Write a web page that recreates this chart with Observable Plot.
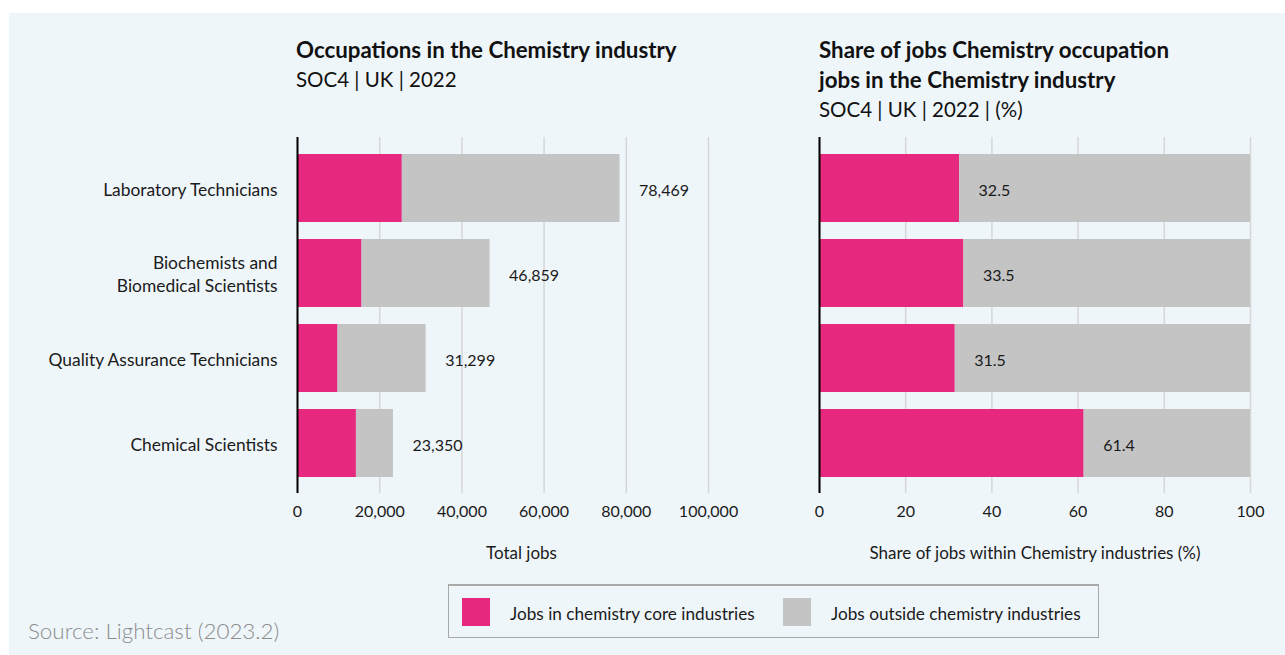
<!DOCTYPE html>
<html><head><meta charset="utf-8">
<script src="https://cdn.jsdelivr.net/npm/d3@7"></script>
<script src="https://cdn.jsdelivr.net/npm/@observablehq/plot@0.6"></script>
<style>
body{margin:0;width:1285px;height:655px;background:#fff;position:relative;overflow:hidden;font-family:Lato, "Noto Sans", sans-serif;color:#1a1a1a;}
#panel{position:absolute;left:9px;top:13px;width:1276px;height:642px;background:#eff6fa;}
.title{position:absolute;font-size:20.5px;line-height:29px;color:#111;}
.title b{font-weight:700;font-size:22.3px;}
#left,#right{position:absolute;top:137px;}
#left{left:0;}
#right{left:700px;}
#legend{position:absolute;left:448px;top:584px;width:649px;height:51px;border:1px solid #a9a9a9;border-top:2px solid #a9a9a9;box-sizing:content-box;}
.sw{position:absolute;top:12px;width:28px;height:28px;}
.lt{position:absolute;top:15px;font-size:17.2px;line-height:26px;color:#1a1a1a;}
#source{position:absolute;left:28px;top:617px;font-size:22.4px;font-weight:300;color:#8c8c8c;}
</style></head>
<body>
<div id="panel"></div>
<div class="title" style="left:296px;top:35px"><b>Occupations in the Chemistry industry</b><br>SOC4 | UK | 2022</div>
<div class="title" style="left:819px;top:35px"><b>Share of jobs Chemistry occupation<br>jobs in the Chemistry industry</b><br>SOC4 | UK | 2022 | (%)</div>
<div id="left"></div>
<div id="right"></div>
<div id="legend">
  <div class="sw" style="left:13px;background:#e6297f"></div><div class="lt" style="left:61px">Jobs in chemistry core industries</div>
  <div class="sw" style="left:334px;background:#c4c4c4"></div><div class="lt" style="left:382px">Jobs outside chemistry industries</div>
</div>
<div id="source">Source: Lightcast (2023.2)</div>
<script>
const occupations = ["Laboratory Technicians", "Biochemists and\nBiomedical Scientists", "Quality Assurance Technicians", "Chemical Scientists"];
const totalJobs = [78469, 46859, 31299, 23350];
const coreJobs = [25502, 15698, 9859, 14337];
const coreShare = [32.5, 33.5, 31.5, 61.4];
const ticksTotal = [0, 20000, 40000, 60000, 80000, 100000];
const ticksShare = [0, 20, 40, 60, 80, 100];
const axisTitles = ["Total jobs", "Share of jobs within Chemistry industries (%)"];
const seriesNames = ["Jobs in chemistry core industries", "Jobs outside chemistry industries"];
const seriesColors = ["#e6297f", "#c4c4c4"];

const rows = occupations.map((o, i) => ({occ: o, total: totalJobs[i], core: coreJobs[i], share: coreShare[i]}));
const fmt = d3.format(",");
const common = {
  style: {fontFamily: "Lato, 'Noto Sans', sans-serif", fontSize: "16px", background: "transparent", color: "#1a1a1a"},
};
const yScale = {domain: occupations, paddingInner: 0.2, paddingOuter: 0.194};

const left = Plot.plot({
  ...common,
  width: 760, height: 436,
  marginLeft: 297, marginRight: 15, marginTop: 0, marginBottom: 80,
  x: {domain: [0, 109000]},
  y: yScale,
  marks: [
    Plot.ruleX(ticksTotal, {stroke: "#d6d6d6", strokeWidth: 1.5}),
    Plot.barX(rows, {y: "occ", x1: 0, x2: "core", fill: seriesColors[0]}),
    Plot.barX(rows, {y: "occ", x1: "core", x2: "total", fill: seriesColors[1]}),
    Plot.text(rows, {y: "occ", x: "total", text: d => fmt(d.total), dx: 19, dy: 2, textAnchor: "start", fontSize: 16, fill: "#1a1a1a"}),
    Plot.ruleX([0], {stroke: "#000", strokeWidth: 2}),
    Plot.axisY({tickSize: 0, tickPadding: 20, fontSize: 17.4, label: null, lineHeight: 1.3}),
    Plot.axisX({ticks: ticksTotal, tickFormat: d => fmt(d), tickSize: 0, tickPadding: 12, fontSize: 16, label: null}),
    Plot.text([axisTitles[0]], {text: d => d, frameAnchor: "bottom", lineAnchor: "middle", dy: 60, fontSize: 17, fill: "#1a1a1a"})
  ]
});
document.getElementById("left").append(left);

const right = Plot.plot({
  ...common,
  width: 585, height: 436,
  marginLeft: 119, marginRight: 35, marginTop: 0, marginBottom: 80,
  x: {domain: [0, 100]},
  y: yScale,
  marks: [
    Plot.ruleX(ticksShare, {stroke: "#d6d6d6", strokeWidth: 1.5}),
    Plot.barX(rows, {y: "occ", x1: 0, x2: "share", fill: seriesColors[0]}),
    Plot.barX(rows, {y: "occ", x1: "share", x2: 100, fill: seriesColors[1]}),
    Plot.text(rows, {y: "occ", x: "share", text: d => d.share.toFixed(1), dx: 19, dy: 2, textAnchor: "start", fontSize: 16, fill: "#1a1a1a"}),
    Plot.ruleX([0], {stroke: "#000", strokeWidth: 2}),
    Plot.axisY({ticks: [], label: null}),
    Plot.axisX({ticks: ticksShare, tickSize: 0, tickPadding: 12, fontSize: 16, label: null}),
    Plot.text([axisTitles[1]], {text: d => d, frameAnchor: "bottom", lineAnchor: "middle", dy: 60, fontSize: 17, fill: "#1a1a1a"})
  ]
});
document.getElementById("right").append(right);
</script>
</body></html>
